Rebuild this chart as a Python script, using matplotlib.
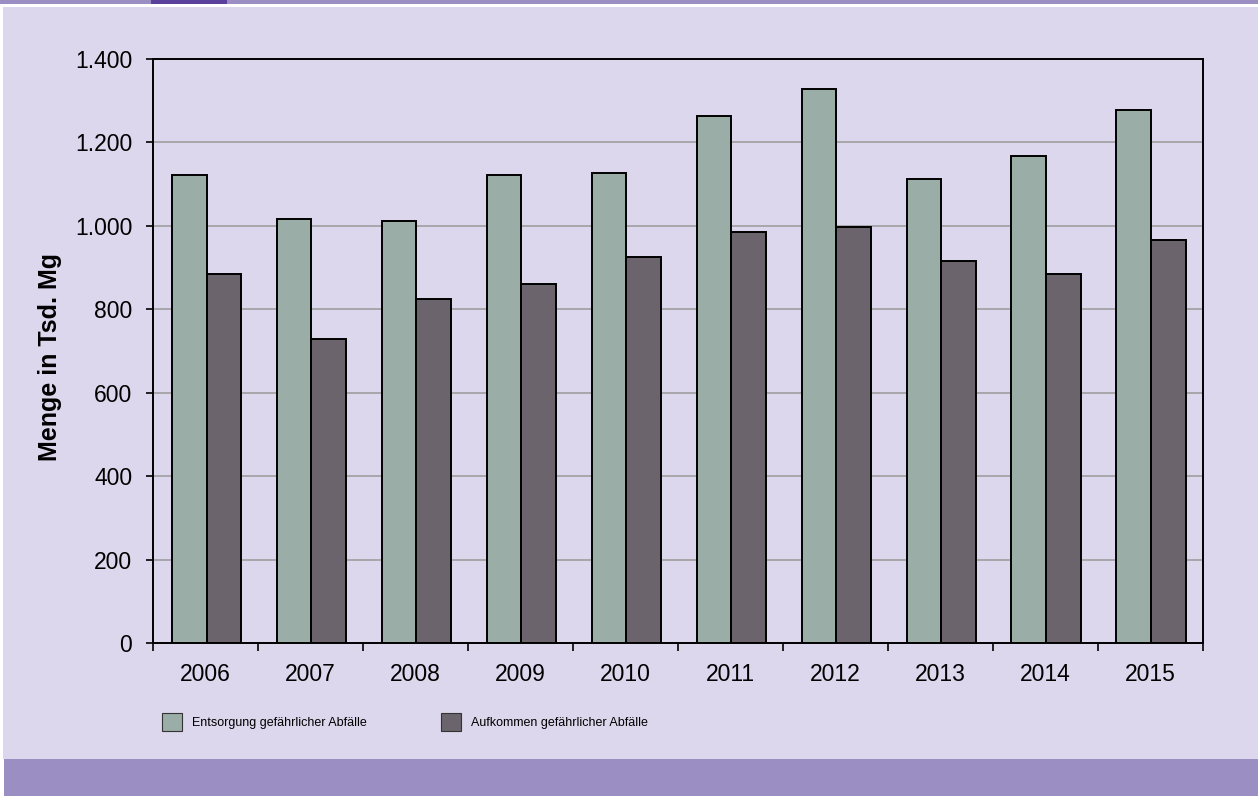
# Entsorgung / Aufkommen gefaehrlicher Abfaelle 2006-2015
import numpy as np
import matplotlib
matplotlib.use("Agg")
import matplotlib.pyplot as plt
from matplotlib.patches import Rectangle, Patch
from matplotlib.ticker import FuncFormatter

years = ["2006", "2007", "2008", "2009", "2010", "2011", "2012", "2013", "2014", "2015"]
entsorgung = [1121, 1016, 1012, 1121, 1126, 1263, 1327, 1113, 1168, 1277]
aufkommen = [884, 729, 825, 861, 925, 985, 998, 917, 884, 966]
labels = ["Entsorgung gefährlicher Abfälle", "Aufkommen gefährlicher Abfälle"]

W, H = 1258, 796
BG = "#dcd7ec"
PURPLE = "#9b8ec3"
DARK_PURPLE = "#5b409b"
GREEN = "#9aada7"
GREY = "#6b646d"

plt.rcParams["font.family"] = ["Liberation Sans", "DejaVu Sans"]

fig = plt.figure(figsize=(W / 100, H / 100), dpi=100)
fig.patch.set_facecolor("white")

# page decoration (pixel coords -> figure fraction)
def px_rect(x0, y0, x1, y1, color):
    fig.add_artist(Rectangle((x0 / W, 1 - y1 / H), (x1 - x0) / W, (y1 - y0) / H,
                             transform=fig.transFigure, facecolor=color,
                             edgecolor="none", zorder=0))

px_rect(3, 7, W, 759, BG)
px_rect(4, 759, W, H, PURPLE)
px_rect(0, 0, W, 4, PURPLE)
px_rect(151, 0, 227, 4, DARK_PURPLE)

ax = fig.add_axes([153 / W, 1 - 643.3 / H, (1202.5 - 153) / W, (643.3 - 59) / H])
ax.set_facecolor(BG)

x = np.arange(len(years))
bw = 0.33
ax.bar(x - 0.32, entsorgung, width=bw, align="edge", color=GREEN,
       edgecolor="black", linewidth=1.4, zorder=3)
ax.bar(x - 0.32 + bw, aufkommen, width=bw, align="edge", color=GREY,
       edgecolor="black", linewidth=1.4, zorder=3)

ax.set_xlim(-0.5, len(years) - 0.5)
ax.set_ylim(0, 1400)
ax.set_yticks(np.arange(0, 1401, 200))
ax.yaxis.set_major_formatter(FuncFormatter(lambda v, p: f"{int(v):,}".replace(",", ".")))
ax.yaxis.grid(True, color="#999999", linewidth=1.1, zorder=1)

ax.set_xticks(x)
ax.set_xticklabels(years)
ax.set_xticks(np.arange(-0.5, len(years)), minor=True)
ax.tick_params(axis="x", which="major", length=0, pad=14, labelsize=16.5)
ax.tick_params(axis="x", which="minor", length=6, width=1.2, direction="out")
ax.tick_params(axis="y", length=5, width=1.2, direction="out", pad=10, labelsize=16.5)

for s in ax.spines.values():
    s.set_linewidth(1.4)
    s.set_color("black")

fig.text(50 / W, 1 - 357 / H, "Menge in Tsd. Mg", rotation=90, fontsize=18,
         fontweight="bold", ha="center", va="center")

handles = [Patch(facecolor=GREEN, edgecolor="#333333", linewidth=0.8),
           Patch(facecolor=GREY, edgecolor="#333333", linewidth=0.8)]
fig.legend(handles, labels, loc="center left", bbox_to_anchor=(162 / W, 1 - 722 / H),
           ncol=2, frameon=False, borderpad=0, borderaxespad=0,
           handlelength=1.6, handleheight=1.84, handletextpad=0.83,
           columnspacing=5.9,
           prop={"family": ["Liberation Sans Narrow", "Liberation Sans"], "size": 9})

fig.savefig("out.png", dpi=100, facecolor=fig.get_facecolor())
